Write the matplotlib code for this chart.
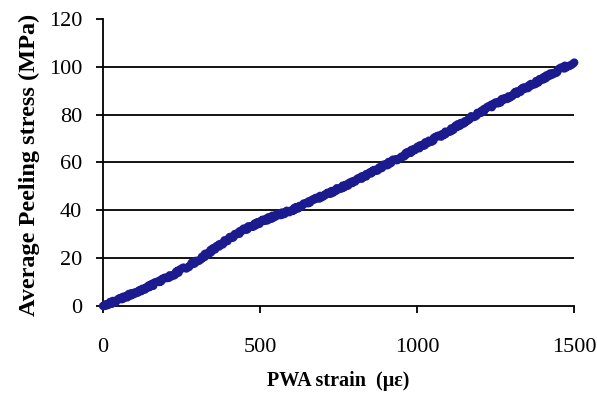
import matplotlib
matplotlib.use("Agg")
import matplotlib.pyplot as plt

# PWA strain (micro-strain) vs. average peeling stress (MPa)
strain = [0, 50, 100, 150, 200, 250, 300, 350, 400, 450, 500, 550, 600, 650,
          700, 750, 800, 850, 900, 950, 1000, 1050, 1100, 1150, 1200, 1250,
          1300, 1350, 1400, 1450, 1500]
stress = [0, 2.5, 5.5, 8.3, 11.5, 15.0, 19.0, 23.5, 28.0, 32.0, 35.0, 37.8,
          40.0, 43.0, 46.0, 49.0, 52.0, 55.5, 59.0, 62.5, 66.0, 69.5, 73.0,
          77.0, 81.0, 84.5, 88.0, 91.5, 95.0, 98.5, 102.0]

x_ticks = [0, 500, 1000, 1500]
y_ticks = [0, 20, 40, 60, 80, 100, 120]

plt.rcParams["font.family"] = ["Liberation Serif", "DejaVu Serif"]

fig = plt.figure(figsize=(5.97, 3.96), dpi=100)
ax = fig.add_axes([0.1725, 0.2273, 0.789, 0.7247])

line, = ax.plot(strain, stress, color="#1b1b8f", linewidth=6,
                solid_capstyle="round", zorder=3, clip_on=False)
line.set_sketch_params(scale=1.3, length=4, randomness=6)

ax.set_xlim(0, 1500)
ax.set_ylim(0, 120)
ax.set_xticks(x_ticks)
ax.set_yticks(y_ticks)

ax.yaxis.grid(True, color="black", linewidth=1.3)
ax.yaxis.get_gridlines()[0].set_visible(False)
ax.yaxis.get_gridlines()[-1].set_visible(False)
ax.set_axisbelow(True)

for side in ("top", "right"):
    ax.spines[side].set_visible(False)
for side in ("left", "bottom"):
    ax.spines[side].set_linewidth(1.3)
    ax.spines[side].set_color("black")

ax.tick_params(axis="both", direction="out", length=5, width=1.3,
               labelsize=16, colors="black")
ax.tick_params(axis="x", pad=18)
ax.tick_params(axis="y", pad=10)

ax.set_xlabel("PWA strain  (\u03bc\u03b5)", fontsize=14.5, fontweight="bold")
ax.xaxis.set_label_coords(0.5, -0.225)
ax.xaxis.label.set_verticalalignment("top")
ax.set_ylabel("Average Peeling stress (MPa)", fontsize=17.5,
              fontweight="bold")
ax.yaxis.set_label_coords(-0.134, 0.49)

fig.savefig("out.png", dpi=100, facecolor="white")
